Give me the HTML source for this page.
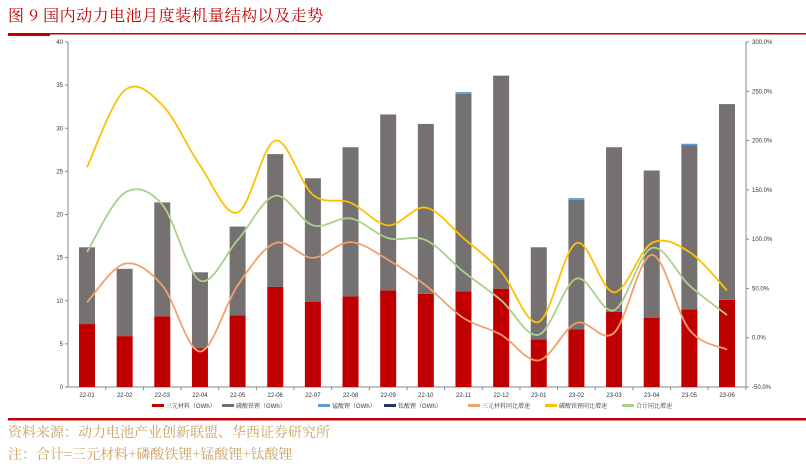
<!DOCTYPE html>
<html><head><meta charset="utf-8"><style>
body{margin:0;width:806px;height:455px;overflow:hidden;background:#fff;font-family:"Liberation Sans","Noto Serif CJK SC",serif;}
.t{position:absolute;left:8px;top:3px;font-size:16px;color:#c00000;font-family:"Noto Serif CJK SC",serif;letter-spacing:0.5px}
.s{position:absolute;left:8px;font-size:14px;color:#c8a060;font-family:"Noto Serif CJK SC",serif;}
</style></head><body>
<div class="t">图 9 国内动力电池月度装机量结构以及走势</div>
<svg width="806" height="455" style="position:absolute;left:0;top:0" id="c">
<rect x="8" y="33" width="798" height="1.5" fill="#c00000"/>
<rect x="8" y="33" width="42" height="3" fill="#c00000"/>
<rect x="8" y="418" width="798" height="2.5" fill="#c00000"/>
</svg>
<div class="s" style="top:422px">资料来源：动力电池产业创新联盟、华西证券研究所</div>
<div class="s" style="top:444px">注：合计=三元材料+磷酸铁锂+锰酸锂+钛酸锂</div>
<script>
const categories=["22-01","22-02","22-03","22-04","22-05","22-06","22-07","22-08","22-09","22-10","22-11","22-12","23-01","23-02","23-03","23-04","23-05","23-06"];
const ternary=[7.3,5.9,8.2,4.5,8.3,11.6,9.9,10.5,11.2,10.8,11.1,11.4,5.5,6.7,8.7,8.0,9.0,10.1];
const lfp=[8.9,7.8,13.2,8.8,10.3,15.4,14.3,17.3,20.4,19.7,22.9,24.7,10.7,15.0,19.1,17.1,19.0,22.7];
const lmo=[0,0,0,0,0,0,0,0,0,0,0.2,0,0,0.2,0,0,0.2,0];
const lto=[0,0,0,0,0,0,0,0,0,0,0,0,0,0,0,0,0,0];
const ternaryYoy=[36,75,53,-14,53,96,81,97,79,53,20,3,-23,15,5,84,8,-12];
const lfpYoy=[173,251,236,175,127,200,145,137,114,132,101,67,16,96,46,96,87,48];
const totalYoy=[87,147,135,58,99,144,114,121,101,99,67,38,3,60,28,91,53,23];
const leftTicks=[0,5,10,15,20,25,30,35,40];
const rightTicks=[-50,0,50,100,150,200,250,300];
const svg=document.getElementById('c');const NS="http://www.w3.org/2000/svg";
const L=68,R=746,T=42,B=387;
const x=i=>87+i*(727-87)/(categories.length-1);
const yl=v=>B-(v/40)*(B-T);
const yr=v=>B-((v+50)/350)*(B-T);
function el(t,a,p){const e=document.createElementNS(NS,t);for(const k in a)e.setAttribute(k,a[k]);(p||svg).appendChild(e);return e;}
let e=el('line',{x1:L,y1:T,x2:L,y2:B,stroke:'#888'});
e=el('line',{x1:R,y1:T,x2:R,y2:B,stroke:'#888'});
e=el('line',{x1:L,y1:B,x2:R,y2:B,stroke:'#888'});
leftTicks.forEach(v=>{el('line',{x1:L-3,y1:yl(v),x2:L,y2:yl(v),stroke:'#888'});const t=el('text',{x:L-5,y:yl(v)+2,'font-size':6,'text-anchor':'end',fill:'#333'});t.textContent=v;});
rightTicks.forEach(v=>{el('line',{x1:R,y1:yr(v),x2:R+3,y2:yr(v),stroke:'#888'});const t=el('text',{x:R+6,y:yr(v)+2,'font-size':6,fill:'#333'});t.textContent=v.toFixed(1)+'%';});
categories.forEach((c,i)=>{const t=el('text',{x:x(i),y:B+10,'font-size':6,'text-anchor':'middle',fill:'#333'});t.textContent=c;
 el('line',{x1:x(i)+18.8,y1:B,x2:x(i)+18.8,y2:B+3,stroke:'#888'});
 const bw=16;let base=0;
 [[ternary,'#c00000','bar-ternary'],[lfp,'#767171','bar-lfp'],[lmo,'#5b9bd5','bar-lmo'],[lto,'#1f3864','bar-lto']].forEach(([arr,col,nm])=>{const v=arr[i];if(v>0){const r=el('rect',{x:x(i)-bw/2,y:yl(base+v),width:bw,height:yl(base)-yl(base+v),fill:col});}base+=v;});
});
function smooth(arr){const p=arr.map((v,i)=>[x(i),yr(v)]);let d='M'+p[0];for(let i=0;i<p.length-1;i++){const p0=p[i-1]||p[i],p1=p[i],p2=p[i+1],p3=p[i+2]||p2;const c1=[p1[0]+(p2[0]-p0[0])/6,p1[1]+(p2[1]-p0[1])/6],c2=[p2[0]-(p3[0]-p1[0])/6,p2[1]-(p3[1]-p1[1])/6];d+=' C'+c1+' '+c2+' '+p2;}return d;}
[[ternaryYoy,'#f4a06a','line-ternary-yoy'],[lfpYoy,'#ffc000','line-lfp-yoy'],[totalYoy,'#a9d18e','line-total-yoy']].forEach(([a,c,n])=>{const p=el('path',{d:smooth(a),fill:'none',stroke:c,'stroke-width':1.8});});
const leg=[['三元材料（GWh）','#c00000'],['磷酸铁锂（GWh）','#767171'],['锰酸锂（GWh）','#5b9bd5'],['钛酸锂（GWh）','#1f3864'],['三元材料同比增速','#f4a06a'],['磷酸铁锂同比增速','#ffc000'],['合计同比增速','#a9d18e']];
const lx=[152,222,318,384,468,545,622];
leg.forEach((l,i)=>{const g=el('g',{});el('rect',{x:lx[i],y:404,width:12,height:3,fill:l[1]},g);const t=el('text',{x:lx[i]+14,y:408,'font-size':6,fill:'#333'},g);t.textContent=l[0];});
</script>
</body></html>
